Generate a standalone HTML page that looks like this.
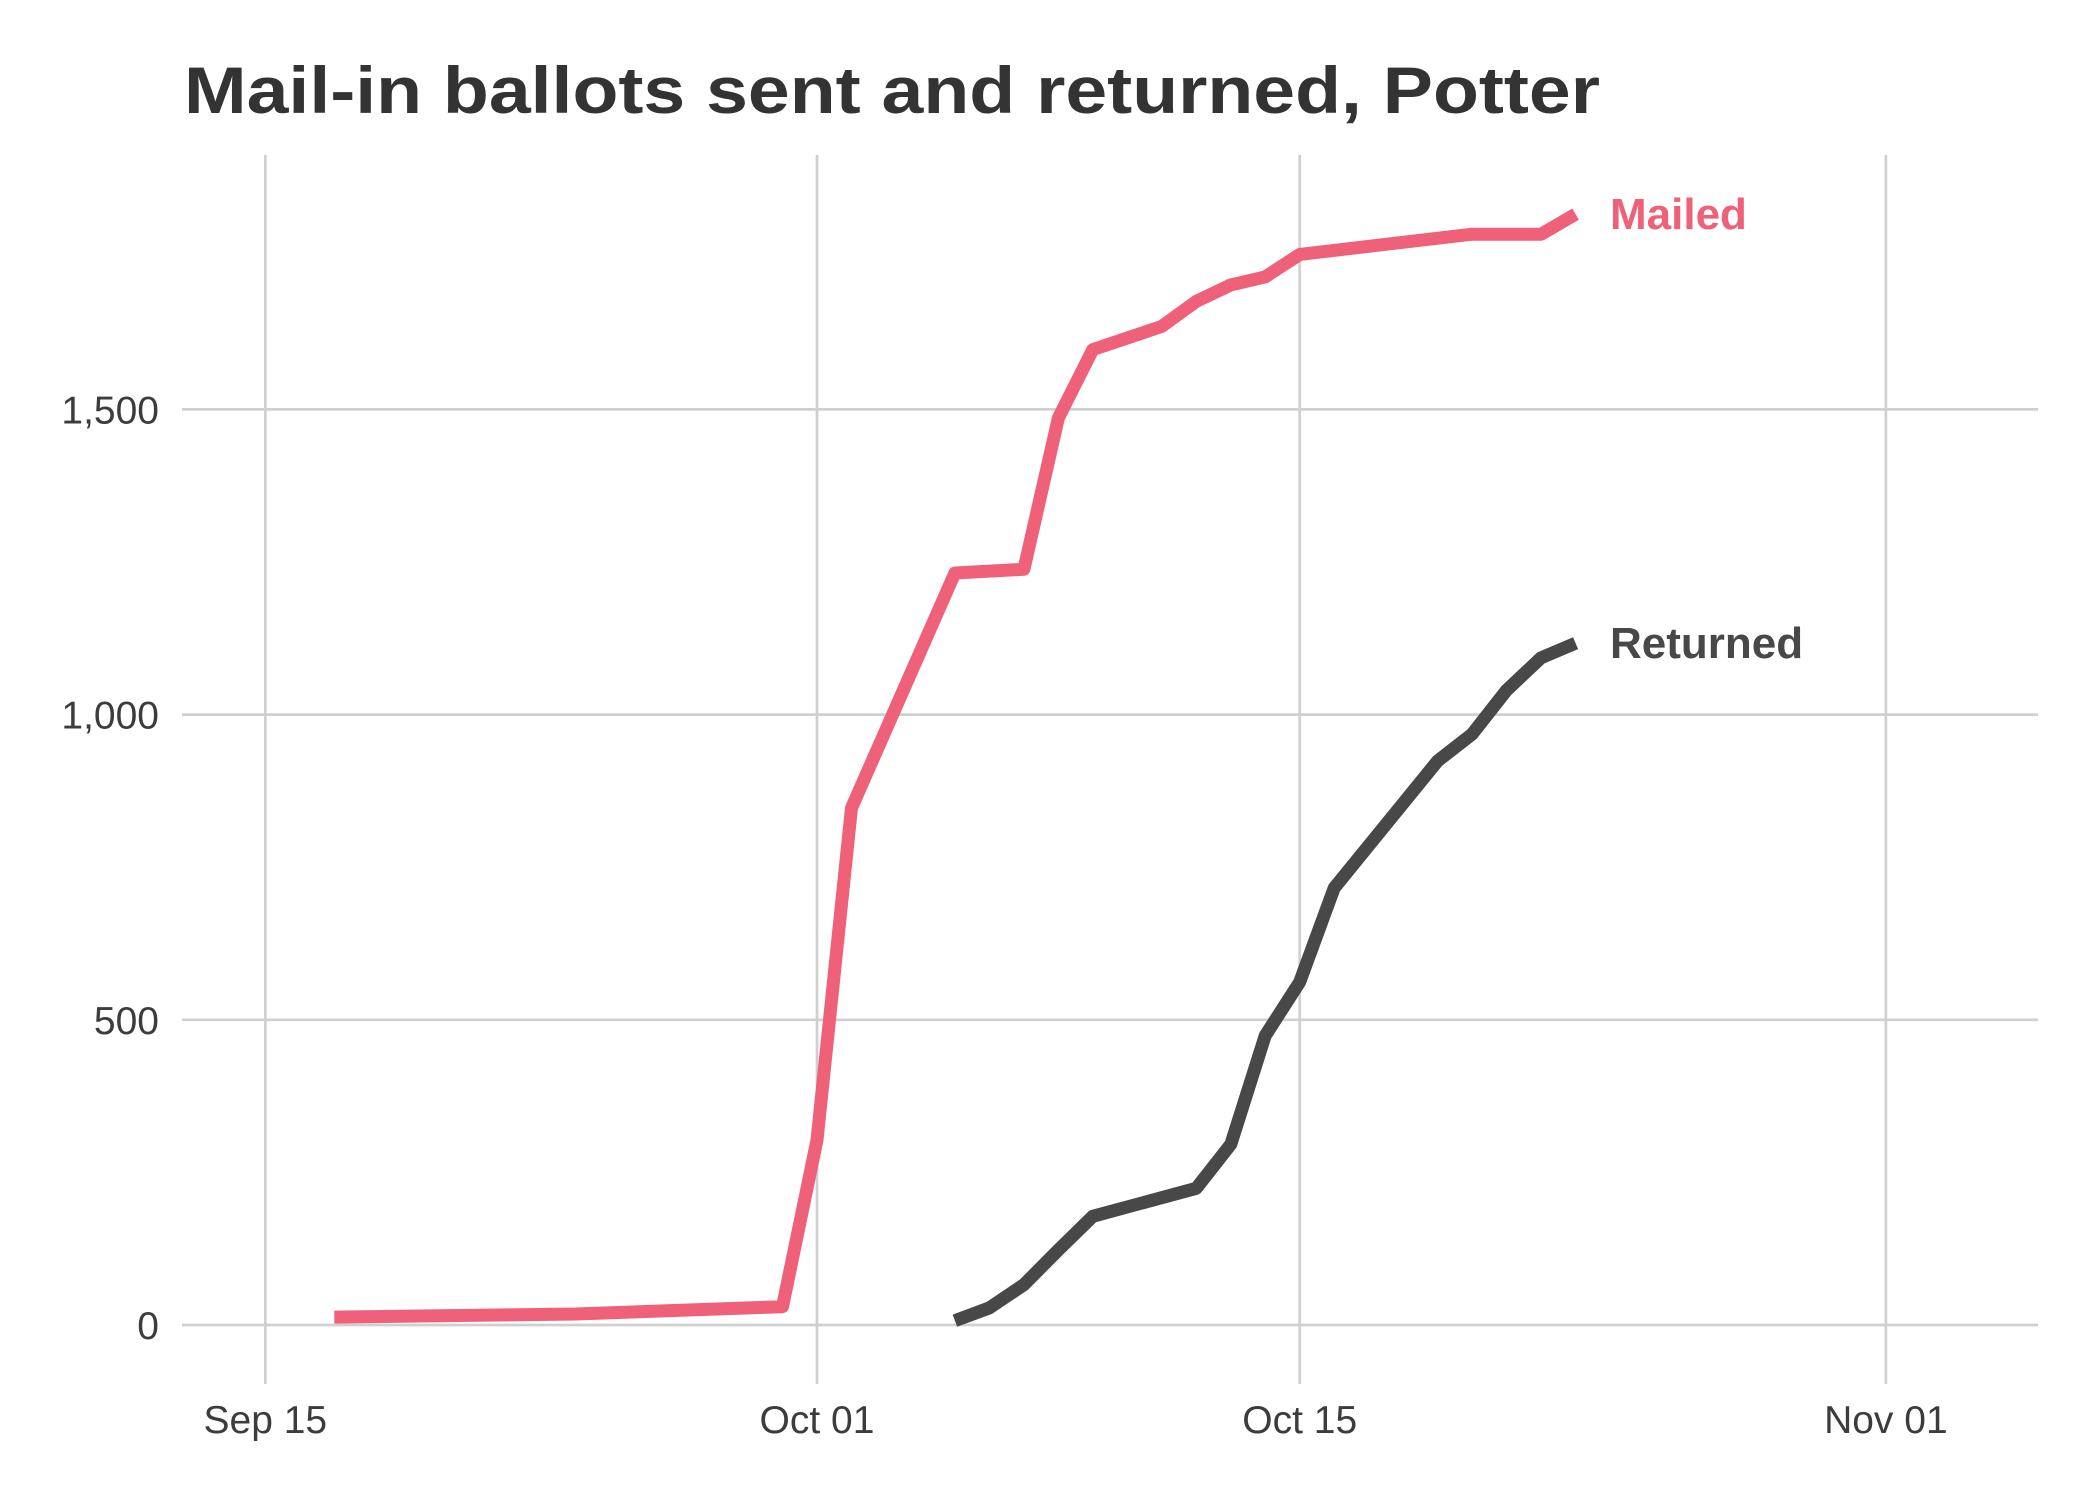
<!DOCTYPE html>
<html><head><meta charset="utf-8"><style>
html,body{margin:0;padding:0;background:#fff}
svg{display:block}
text{font-family:"Liberation Sans",Arial,sans-serif}
</style></head><body>
<svg id="chart" width="2100" height="1500" viewBox="0 0 2100 1500" xmlns="http://www.w3.org/2000/svg">
<text x="184" y="113" font-size="66" font-weight="bold" fill="#333" textLength="1416" lengthAdjust="spacingAndGlyphs">Mail-in ballots sent and returned, Potter</text>
<g id="grid"></g>
<g id="series"></g>
<g id="labels"></g>
</svg>
<script>
const xTickLabels = ["Sep 15","Oct 01","Oct 15","Nov 01"];
const xTickDays = [-16, 0, 14, 31];
const yTicks = [0, 500, 1000, 1500];
const mailedDays = [-14, -7, -1, 0, 1, 4, 6, 7, 8, 10, 11, 12, 13, 14, 19, 21, 22];
const mailedVals = [13, 18, 30, 303, 847, 1232, 1238, 1486, 1598, 1636, 1677, 1704, 1717, 1754, 1787, 1787, 1820];
const returnedDays = [4, 5, 6, 7, 8, 11, 12, 13, 14, 15, 18, 19, 20, 21, 22];
const returnedVals = [7, 28, 66, 123, 178, 224, 296, 474, 562, 716, 924, 968, 1040, 1093, 1117];

const NS = "http://www.w3.org/2000/svg";
const X0 = 817, PX_DAY = 34.48, Y0 = 1325, PX_VAL = 0.6104;
const L = 182, R = 2038, T = 155, B = 1384;
const x = d => X0 + d * PX_DAY;
const y = v => Y0 - v * PX_VAL;
function mk(tag, attrs, parent) {
  const e = document.createElementNS(NS, tag);
  for (const k in attrs) e.setAttribute(k, attrs[k]);
  parent.appendChild(e);
  return e;
}
const grid = document.getElementById('grid');
const series = document.getElementById('series');
const labels = document.getElementById('labels');

yTicks.forEach(v => {
  const l = mk('line', {x1: L, x2: R, y1: y(v), y2: y(v), stroke: '#d0d0d0', 'stroke-width': 2.7}, grid);
  
  
  const t = mk('text', {x: 159, y: y(v) + 14, 'text-anchor': 'end', 'font-size': 39, fill: '#3c3c3c'}, grid);
  
  
  t.textContent = v.toLocaleString('en-US');
});
xTickDays.forEach((d, i) => {
  const l = mk('line', {x1: x(d), x2: x(d), y1: T, y2: B, stroke: '#d0d0d0', 'stroke-width': 2.7}, grid);
  
  
  const t = mk('text', {x: x(d), y: 1433, 'text-anchor': 'middle', 'font-size': 39, fill: '#3c3c3c'}, grid);
  
  
  t.textContent = xTickLabels[i];
});
function line(days, vals, color, name) {
  const pts = days.map((d, i) => x(d).toFixed(1) + ',' + y(vals[i]).toFixed(1)).join(' ');
  const p = mk('polyline', {points: pts, fill: 'none', stroke: color, 'stroke-width': 13, 'stroke-linejoin': 'round'}, series);
  
  
}
line(mailedDays, mailedVals, '#ef6079', 'mailed-line');
line(returnedDays, returnedVals, '#484848', 'returned-line');

const lm = mk('text', {x: 1610, y: y(mailedVals[mailedVals.length-1]) + 15, 'font-size': 44, 'font-weight': 'bold', fill: '#ef6079'}, labels);


lm.textContent = 'Mailed';
const lr = mk('text', {x: 1610, y: y(returnedVals[returnedVals.length-1]) + 15, 'font-size': 44, 'font-weight': 'bold', fill: '#484848'}, labels);


lr.textContent = 'Returned';
</script>
</body></html>
